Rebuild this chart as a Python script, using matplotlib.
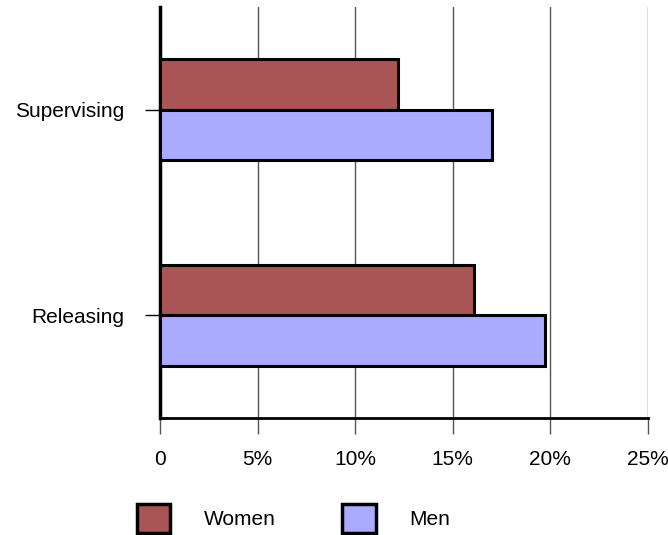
import numpy as np
import matplotlib.pyplot as plt
from matplotlib.patches import Patch

plt.rcParams['font.family'] = ['Liberation Sans', 'DejaVu Sans']

# datos
categorias = ['Releasing', 'Supervising']
women = [16.1, 12.2]
men = [19.7, 17.0]

y = np.arange(len(categorias))
h = 0.245

fig = plt.figure(figsize=(6.68, 5.35), dpi=100)
ax = fig.add_axes([160/668, 117/535, 488/668, 411/535])

ax.barh(y + h/2, women, height=h, color='#AA5555', edgecolor='black', linewidth=2.2, zorder=3)
ax.barh(y - h/2, men, height=h, color='#AAAAFF', edgecolor='black', linewidth=2.2, zorder=3)

ax.set_xlim(0, 25)
ax.set_ylim(-0.5, 1.5)
ax.set_xticks([0, 5, 10, 15, 20, 25])
ax.set_xticklabels(['0', '5%', '10%', '15%', '20%', '25%'])
ax.set_yticks(y)
ax.set_yticklabels(categorias)

ax.grid(axis='x', color='#555555', linewidth=1, zorder=0)
for s in ['top', 'right']:
    ax.spines[s].set_visible(False)
ax.spines['left'].set_linewidth(2.5)
ax.spines['bottom'].set_linewidth(2)
ax.tick_params(axis='x', length=11.5, width=1, color='#555555', pad=11.5, labelsize=15)
ax.tick_params(axis='y', length=11, width=1, color='black', pad=14.5, labelsize=15)

handles = [Patch(facecolor='#AA5555', edgecolor='black', linewidth=2.5, label='Women'),
           Patch(facecolor='#AAAAFF', edgecolor='black', linewidth=2.5, label='Men')]
fig.legend(handles=handles, loc='lower left', bbox_to_anchor=(137/668, 2/535), ncol=2,
           frameon=False, fontsize=15, handlelength=1.6, handleheight=1.75,
           handletextpad=1.6, columnspacing=3.2, borderpad=0, borderaxespad=0)

fig.savefig('out.png', dpi=100)
